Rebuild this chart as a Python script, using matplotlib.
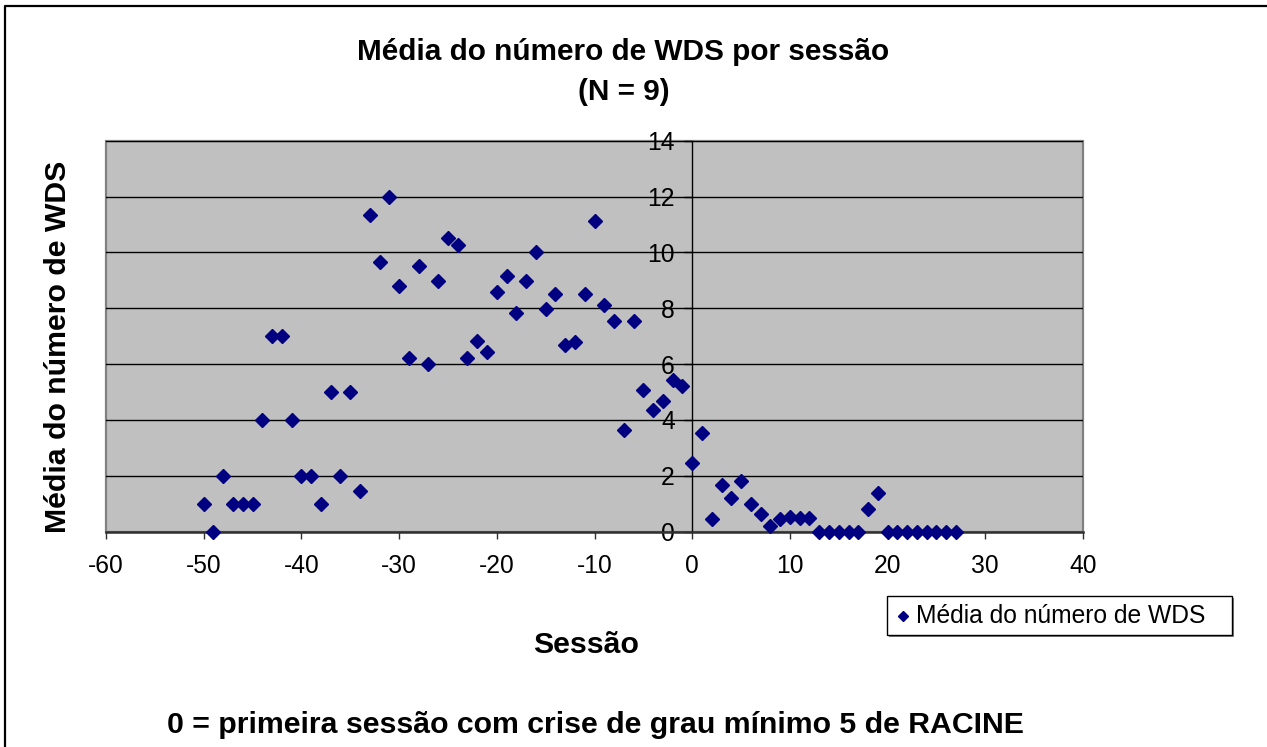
import matplotlib
matplotlib.use("Agg")
import matplotlib.pyplot as plt
from matplotlib.lines import Line2D
from matplotlib.patches import Rectangle

plt.rcParams['font.family'] = ['Liberation Sans', 'DejaVu Sans']

sessao = [-50, -49, -48, -47, -46, -45, -44, -43, -42, -41, -40, -39, -38, -37, -36, -35, -34,
          -33, -32, -31, -30, -29, -28, -27, -26, -25, -24, -23, -22, -21, -20, -19, -18, -17,
          -16, -15, -14, -13, -12, -11, -10, -9, -8, -7, -6, -5, -4, -3, -2, -1,
          0, 1, 2, 3, 4, 5, 6, 7, 8, 9, 10, 11, 12, 13, 14, 15, 16, 17, 18, 19,
          20, 21, 22, 23, 24, 25, 26, 27]
media_wds = [1, 0, 2, 1, 1, 1, 4, 7, 7, 4, 2, 2, 1, 5, 2, 5, 1.47,
             11.33, 9.67, 12, 8.78, 6.22, 9.5, 6.0, 8.98, 10.5, 10.25, 6.22, 6.82, 6.43, 8.57, 9.17, 7.83, 8.98,
             10.0, 7.96, 8.5, 6.7, 6.81, 8.5, 11.12, 8.11, 7.56, 3.63, 7.56, 5.08, 4.35, 4.69, 5.43, 5.21,
             2.47, 3.54, 0.47, 1.66, 1.2, 1.8, 0.99, 0.64, 0.19, 0.46, 0.54, 0.48, 0.48, 0, 0, 0, 0, 0, 0.81, 1.39,
             0, 0, 0, 0, 0, 0, 0, 0]
x_ticks = [-60, -50, -40, -30, -20, -10, 0, 10, 20, 30, 40]
y_ticks = [0, 2, 4, 6, 8, 10, 12, 14]

W, H = 1267, 747
fig = plt.figure(figsize=(W / 100, H / 100), dpi=100)
fig.patch.set_facecolor('white')

L, R, B, T = 106, 1083, 531.7, 140.7
ax = fig.add_axes([L / W, 1 - B / H, (R - L) / W, (B - T) / H])
ax.set_facecolor('#C0C0C0')
ax.set_xlim(-60, 40)
ax.set_ylim(0, 14)

for s in ['top', 'right']:
    ax.spines[s].set_visible(False)
ax.spines['left'].set_position(('data', 0))
ax.spines['left'].set_color('black')
ax.spines['left'].set_linewidth(1.0)
ax.spines['bottom'].set_color('#303030')
ax.spines['bottom'].set_linewidth(1.8)

# plot-area border
ax.add_patch(Rectangle((0, 0), 1, 1, transform=ax.transAxes, fill=False,
                       edgecolor='#808080', linewidth=1.6, zorder=0.5, clip_on=False))

ax.set_xticks(x_ticks)
ax.set_yticks(y_ticks)
ax.set_xticklabels([str(v) for v in x_ticks])
ax.set_yticklabels([str(v) for v in y_ticks])
ax.tick_params(axis='x', direction='out', length=5, width=1, color='#303030',
               labelsize=17.7, pad=11)
ax.tick_params(axis='y', direction='out', length=5.5, width=1, color='black',
               labelsize=17.7, pad=7)

for v in y_ticks[1:]:
    ax.axhline(v, color='black', linewidth=1.0, zorder=1)

ax.plot(sessao, media_wds, linestyle='none', marker='D', markersize=7.2,
        color='#000080', markeredgecolor='#000080', zorder=3, clip_on=False,
        label='Média do número de WDS')

# titles and labels
fig.text(0.5 * (358 + 889) / W, 1 - 52 / H, 'Média do número de WDS por sessão',
         ha='center', va='center', fontsize=21.4, fontweight='bold')
fig.text(0.5 * (358 + 889) / W, 1 - 92 / H, '(N = 9)',
         ha='center', va='center', fontsize=21.4, fontweight='bold')
fig.text(58 / W, 1 - 347 / H, 'Média do número de WDS', rotation=90,
         ha='center', va='center', fontsize=21.8, fontweight='bold')
fig.text(586 / W, 1 - 645 / H, 'Sessão', ha='center', va='center',
         fontsize=21.8, fontweight='bold')
fig.text(595 / W, 1 - 725 / H, '0 = primeira sessão com crise de grau mínimo 5 de RACINE',
         ha='center', va='center', fontsize=21.8, fontweight='bold')

# legend box
lx0, lx1, ly0, ly1 = 887, 1232, 596, 635
fig.patches.append(Rectangle((lx0 / W + 2 / W, 1 - (ly1 + 2) / H), (lx1 - lx0) / W, (ly1 - ly0) / H,
                             transform=fig.transFigure, facecolor='#808080', edgecolor='none',
                             zorder=1))
fig.patches.append(Rectangle((lx0 / W, 1 - ly1 / H), (lx1 - lx0) / W, (ly1 - ly0) / H,
                             transform=fig.transFigure, facecolor='white', edgecolor='black',
                             linewidth=1.0, zorder=2))
fig.lines.append(Line2D([903 / W], [1 - 616 / H], transform=fig.transFigure, marker='D',
                        markersize=5.5, color='#000080', linestyle='none', zorder=3))
fig.text(916 / W, 1 - 616 / H, 'Média do número de WDS', ha='left', va='center',
         fontsize=17.7, zorder=4)

# outer chart border (top and left)
fig.lines.append(Line2D([5 / W, 5 / W, 1.0], [0.0, 1 - 6 / H, 1 - 6 / H],
                        transform=fig.transFigure, color='black', linewidth=1.6))

fig.savefig('out.png', dpi=100)
